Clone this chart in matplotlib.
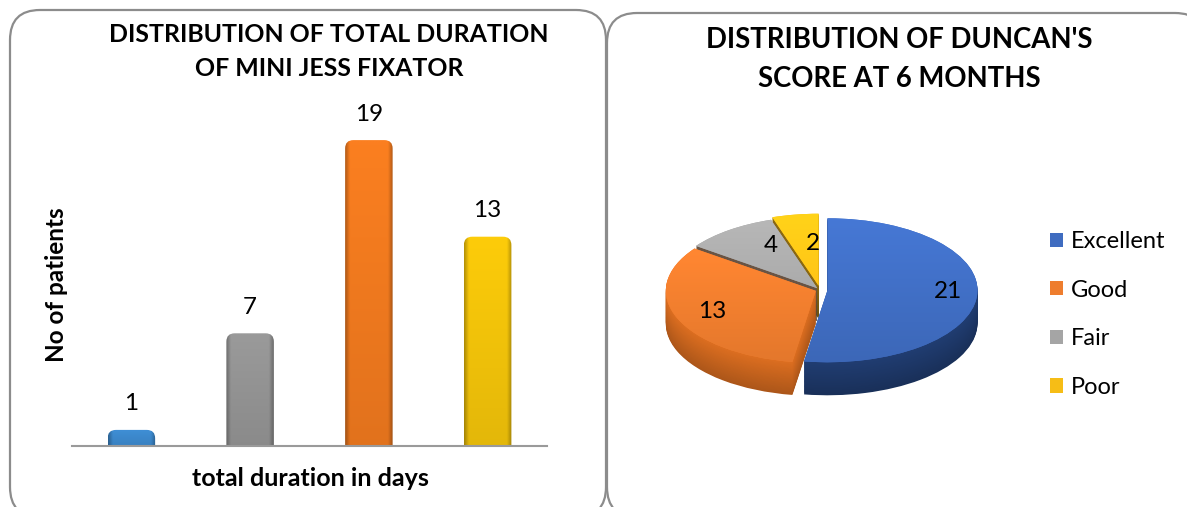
import numpy as np
import matplotlib
matplotlib.use("Agg")
import matplotlib.pyplot as plt
from matplotlib.patches import FancyBboxPatch, Patch
from matplotlib.colors import to_rgb

plt.rcParams['font.family'] = ['Lato', 'DejaVu Sans']

W, H = 1187, 507

# bar chart data
bar_values = [1, 7, 19, 13]
bar_colors = ["#3f8fd6", "#9a9a9a", "#fb7f20", "#fdcc0a"]

# pie chart data
pie_labels = ["Excellent", "Good", "Fair", "Poor"]
pie_values = [21, 13, 4, 2]
pie_colors = ["#3f6cc0", "#ee7d2e", "#a5a5a5", "#f6bd16"]
pie_sides = ["#1c3563", "#c0601c", "#5c4a3c", "#7a5c10"]
pie_explode = [0.05, 0.03, 0.03, 0.06]


def px_axes(left, top, right, bottom):
    return fig.add_axes([left / W, 1 - bottom / H, (right - left) / W, (bottom - top) / H])


def shade(color, factors):
    return np.clip(np.outer(factors, to_rgb(color)), 0, 1)


fig = plt.figure(figsize=(W / 100, H / 100), dpi=100)

# panel frames
bg = fig.add_axes([0, 0, 1, 1])
bg.set_xlim(0, W)
bg.set_ylim(H, 0)
bg.axis("off")
for x0, y0, x1 in [(10, 10, 606), (607, 13, 1205)]:
    bg.add_patch(FancyBboxPatch((x0 + 30, y0 + 30), x1 - x0 - 60, 517 - y0 - 60,
                                boxstyle="round,pad=30,rounding_size=30",
                                fc="white", ec="#8c8c8c", lw=1.6))

bg.text(329, 34, "DISTRIBUTION OF TOTAL DURATION", ha="center", va="center",
        fontsize=17.9, fontweight="bold")
bg.text(329, 69, "OF MINI JESS FIXATOR", ha="center", va="center",
        fontsize=17.9, fontweight="bold")
bg.text(899, 40, "DISTRIBUTION OF DUNCAN'S", ha="center", va="center",
        fontsize=19.8, fontweight="bold")
bg.text(899, 79, "SCORE AT 6 MONTHS", ha="center", va="center",
        fontsize=19.8, fontweight="bold")
bg.text(56, 285, "No of patients", rotation=90, ha="center", va="center",
        fontsize=17.5, fontweight="bold")
bg.text(310, 478, "total duration in days", ha="center", va="center",
        fontsize=18, fontweight="bold")

# bars
ax = px_axes(72, 124, 547, 446)
ax.patch.set_alpha(0)
ax.set_xticks([])
ax.set_yticks([])
for s in ["top", "left", "right"]:
    ax.spines[s].set_visible(False)
ax.spines["bottom"].set_color("#9a9a9a")
ax.spines["bottom"].set_linewidth(1.5)

bar_w = 0.40
aspect = (475 / 4) / 16.1  # data units to pixels, x over y
across = np.interp(np.linspace(0, 1, 64), [0, 0.1, 0.9, 1], [0.72, 1, 1, 0.72])
for i, v in enumerate(bar_values):
    box = FancyBboxPatch((i - bar_w / 2, -1), bar_w, v + 1,
                         boxstyle="round,pad=0,rounding_size=0.07",
                         mutation_aspect=aspect, fc="none", ec="none")
    ax.add_patch(box)
    down = np.linspace(1, 0.9, 32)
    img = np.clip(np.outer(down, across)[..., None] * np.array(to_rgb(bar_colors[i])), 0, 1)
    im = ax.imshow(img, aspect="auto", extent=(i - bar_w / 2, i + bar_w / 2, 0, v), zorder=2)
    im.set_clip_path(box)
    ax.text(i, v + 1.62, str(v), ha="center", va="center", fontsize=17.5)
ax.set_xlim(-0.5, 3.5)
ax.set_ylim(0, 20)

# pie, squashed to an ellipse and stacked to get the depth
rx, ry, cx, cy = 150, 72, 820, 290
px0, py0, px1, py1 = 640, 200, 1000, 420
pax = px_axes(px0, py0, px1, py1)
pax.patch.set_alpha(0)
depth = 33 / ry
for d in np.linspace(depth, 0.01, 40):
    k = 1 - 0.25 * d / depth + 0.15
    side = [tuple(np.clip(np.array(to_rgb(c)) * k, 0, 1)) for c in pie_sides]
    pax.pie(pie_values, explode=pie_explode, colors=side, startangle=90,
            counterclock=False, center=(0, -d))
wedges, _ = pax.pie(pie_values, explode=pie_explode, colors=pie_colors, startangle=90,
                    counterclock=False, center=(0, 0))
# soft top-to-bottom shading on the top face
for w, c in zip(wedges, pie_colors):
    img = shade(c, np.linspace(1.12, 0.95, 64)).reshape(64, 1, 3)
    im = pax.imshow(img, aspect="auto", extent=(-1.3, 1.3, -1.1, 1.1), zorder=w.get_zorder() + 5)
    im.set_clip_path(w)
pax.set_aspect("auto")
pax.set_xlim((px0 - cx) / rx, (px1 - cx) / rx)
pax.set_ylim((cy - py1) / ry, (cy - py0) / ry)

bg2 = fig.add_axes([0, 0, 1, 1])
bg2.set_xlim(0, W)
bg2.set_ylim(H, 0)
bg2.axis("off")
bg2.patch.set_alpha(0)
for t, x, y in zip(pie_values, [948, 712, 771, 813], [292, 311, 245, 243]):
    bg2.text(x, y, str(t), ha="center", va="center", fontsize=17.5)

handles = [Patch(fc=c, ec="none") for c in pie_colors]
bg2.legend(handles, pie_labels, loc="center left", bbox_to_anchor=(1050, 314.5),
           bbox_transform=bg2.transData, frameon=False, fontsize=17,
           handlelength=0.55, handleheight=0.55, handletextpad=0.35,
           labelspacing=1.17, borderpad=0, borderaxespad=0)

fig.savefig("out.png", dpi=100)
